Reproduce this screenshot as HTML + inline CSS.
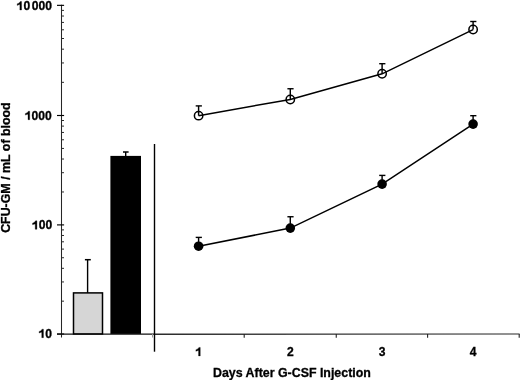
<!DOCTYPE html>
<html><head><meta charset="utf-8"><style>
html,body{margin:0;padding:0;background:#fff;}
body{width:520px;height:380px;overflow:hidden;}
svg{display:block;}
svg{will-change:transform;}
text{font-family:"Liberation Sans",sans-serif;font-weight:bold;fill:#000;stroke:#000;stroke-width:0.3px;}
</style></head><body>
<svg width="520" height="380" viewBox="0 0 520 380">
<rect width="520" height="380" fill="#fff"/>
<line x1="61.50" y1="4.80" x2="61.50" y2="337.50" stroke="#262626" stroke-width="1.05"/>
<line x1="57.00" y1="334.00" x2="64.10" y2="334.00" stroke="#000" stroke-width="1.15"/>
<line x1="57.00" y1="224.90" x2="64.10" y2="224.90" stroke="#000" stroke-width="1.15"/>
<line x1="57.00" y1="115.50" x2="64.10" y2="115.50" stroke="#000" stroke-width="1.15"/>
<line x1="57.00" y1="5.35" x2="64.10" y2="5.35" stroke="#000" stroke-width="1.15"/>
<line x1="61.50" y1="301.16" x2="64.00" y2="301.16" stroke="#2a2a2a" stroke-width="1.0"/>
<line x1="61.50" y1="281.95" x2="64.00" y2="281.95" stroke="#2a2a2a" stroke-width="1.0"/>
<line x1="61.50" y1="268.32" x2="64.00" y2="268.32" stroke="#2a2a2a" stroke-width="1.0"/>
<line x1="61.50" y1="257.74" x2="64.00" y2="257.74" stroke="#2a2a2a" stroke-width="1.0"/>
<line x1="61.50" y1="249.10" x2="64.00" y2="249.10" stroke="#2a2a2a" stroke-width="1.0"/>
<line x1="61.50" y1="241.80" x2="64.00" y2="241.80" stroke="#2a2a2a" stroke-width="1.0"/>
<line x1="61.50" y1="235.47" x2="64.00" y2="235.47" stroke="#2a2a2a" stroke-width="1.0"/>
<line x1="61.50" y1="229.89" x2="64.00" y2="229.89" stroke="#2a2a2a" stroke-width="1.0"/>
<line x1="61.50" y1="191.97" x2="64.00" y2="191.97" stroke="#2a2a2a" stroke-width="1.0"/>
<line x1="61.50" y1="172.70" x2="64.00" y2="172.70" stroke="#2a2a2a" stroke-width="1.0"/>
<line x1="61.50" y1="159.03" x2="64.00" y2="159.03" stroke="#2a2a2a" stroke-width="1.0"/>
<line x1="61.50" y1="148.43" x2="64.00" y2="148.43" stroke="#2a2a2a" stroke-width="1.0"/>
<line x1="61.50" y1="139.77" x2="64.00" y2="139.77" stroke="#2a2a2a" stroke-width="1.0"/>
<line x1="61.50" y1="132.45" x2="64.00" y2="132.45" stroke="#2a2a2a" stroke-width="1.0"/>
<line x1="61.50" y1="126.10" x2="64.00" y2="126.10" stroke="#2a2a2a" stroke-width="1.0"/>
<line x1="61.50" y1="120.51" x2="64.00" y2="120.51" stroke="#2a2a2a" stroke-width="1.0"/>
<line x1="61.50" y1="82.34" x2="64.00" y2="82.34" stroke="#2a2a2a" stroke-width="1.0"/>
<line x1="61.50" y1="62.95" x2="64.00" y2="62.95" stroke="#2a2a2a" stroke-width="1.0"/>
<line x1="61.50" y1="49.18" x2="64.00" y2="49.18" stroke="#2a2a2a" stroke-width="1.0"/>
<line x1="61.50" y1="38.51" x2="64.00" y2="38.51" stroke="#2a2a2a" stroke-width="1.0"/>
<line x1="61.50" y1="29.79" x2="64.00" y2="29.79" stroke="#2a2a2a" stroke-width="1.0"/>
<line x1="61.50" y1="22.41" x2="64.00" y2="22.41" stroke="#2a2a2a" stroke-width="1.0"/>
<line x1="61.50" y1="16.02" x2="64.00" y2="16.02" stroke="#2a2a2a" stroke-width="1.0"/>
<line x1="61.50" y1="10.39" x2="64.00" y2="10.39" stroke="#2a2a2a" stroke-width="1.0"/>
<line x1="57.00" y1="334.10" x2="154.30" y2="334.20" stroke="#111" stroke-width="1.3"/>
<defs><linearGradient id="ax" gradientUnits="userSpaceOnUse" x1="154" y1="0" x2="520" y2="0"><stop offset="0" stop-color="#2a2a2a"/><stop offset="0.5" stop-color="#555"/><stop offset="1" stop-color="#707070"/></linearGradient></defs>
<line x1="154.3" y1="334.25" x2="519.6" y2="333.9" stroke="url(#ax)" stroke-width="1.45"/>
<line x1="244.20" y1="333.90" x2="244.20" y2="337.80" stroke="#222" stroke-width="1.1"/>
<line x1="336.25" y1="333.90" x2="336.25" y2="337.80" stroke="#222" stroke-width="1.1"/>
<line x1="427.60" y1="333.90" x2="427.60" y2="337.80" stroke="#222" stroke-width="1.1"/>
<line x1="519.20" y1="333.90" x2="519.20" y2="337.80" stroke="#222" stroke-width="1.1"/>
<line x1="152.50" y1="333.90" x2="152.50" y2="337.50" stroke="#999" stroke-width="1.0"/>
<line x1="154.50" y1="144.00" x2="154.50" y2="351.70" stroke="#000" stroke-width="1.4"/>
<rect x="73.5" y="292.9" width="29" height="41.00" fill="#d6d6d6" stroke="#000" stroke-width="1.5"/>
<line x1="87.60" y1="259.70" x2="87.60" y2="292.90" stroke="#000" stroke-width="1.4"/>
<line x1="84.90" y1="259.70" x2="90.80" y2="259.70" stroke="#000" stroke-width="1.5"/>
<rect x="110.4" y="155.9" width="30.6" height="178.00" fill="#000"/>
<line x1="125.70" y1="152.00" x2="125.70" y2="156.00" stroke="#000" stroke-width="1.4"/>
<line x1="123.00" y1="152.00" x2="128.60" y2="152.00" stroke="#000" stroke-width="1.5"/>
<polyline points="198.60,115.65 290.30,99.45 382.10,73.80 473.10,29.55" fill="none" stroke="#000" stroke-width="1.5"/>
<polyline points="198.60,246.20 290.30,228.10 382.10,184.10 473.10,124.10" fill="none" stroke="#000" stroke-width="1.5"/>
<circle cx="198.60" cy="115.65" r="4.2" fill="none" stroke="#000" stroke-width="1.5"/>
<line x1="198.60" y1="105.90" x2="198.60" y2="115.65" stroke="#000" stroke-width="1.45"/>
<line x1="195.70" y1="105.90" x2="201.90" y2="105.90" stroke="#000" stroke-width="1.4"/>
<circle cx="290.30" cy="99.45" r="4.2" fill="none" stroke="#000" stroke-width="1.5"/>
<line x1="290.30" y1="88.75" x2="290.30" y2="99.45" stroke="#000" stroke-width="1.45"/>
<line x1="287.40" y1="88.75" x2="293.60" y2="88.75" stroke="#000" stroke-width="1.4"/>
<circle cx="382.10" cy="73.80" r="4.2" fill="none" stroke="#000" stroke-width="1.5"/>
<line x1="382.10" y1="63.70" x2="382.10" y2="73.80" stroke="#000" stroke-width="1.45"/>
<line x1="379.20" y1="63.70" x2="385.40" y2="63.70" stroke="#000" stroke-width="1.4"/>
<circle cx="473.10" cy="29.55" r="4.2" fill="none" stroke="#000" stroke-width="1.5"/>
<line x1="473.10" y1="21.50" x2="473.10" y2="29.55" stroke="#000" stroke-width="1.45"/>
<line x1="470.20" y1="21.50" x2="476.40" y2="21.50" stroke="#000" stroke-width="1.4"/>
<circle cx="198.60" cy="246.20" r="4.8" fill="#000"/>
<line x1="198.60" y1="237.40" x2="198.60" y2="246.20" stroke="#000" stroke-width="1.45"/>
<line x1="195.70" y1="237.40" x2="201.90" y2="237.40" stroke="#000" stroke-width="1.4"/>
<circle cx="290.30" cy="228.10" r="4.8" fill="#000"/>
<line x1="290.30" y1="216.75" x2="290.30" y2="228.10" stroke="#000" stroke-width="1.45"/>
<line x1="287.40" y1="216.75" x2="293.60" y2="216.75" stroke="#000" stroke-width="1.4"/>
<circle cx="382.10" cy="184.10" r="4.8" fill="#000"/>
<line x1="382.10" y1="175.40" x2="382.10" y2="184.10" stroke="#000" stroke-width="1.45"/>
<line x1="379.20" y1="175.40" x2="385.40" y2="175.40" stroke="#000" stroke-width="1.4"/>
<circle cx="473.10" cy="124.10" r="4.8" fill="#000"/>
<line x1="473.10" y1="115.70" x2="473.10" y2="124.10" stroke="#000" stroke-width="1.45"/>
<line x1="470.20" y1="115.70" x2="476.40" y2="115.70" stroke="#000" stroke-width="1.4"/>
<text x="52.0" y="10.0" text-anchor="end" font-size="12.1" ><tspan visibility="hidden">1</tspan>0<tspan dx="1.6">000</tspan></text>
<path d="M21.57,1.50 L21.57,10.00 L19.87,10.00 L19.87,4.60 C19.22,4.70 18.12,4.90 17.22,5.40 L17.22,3.80 C18.52,3.40 19.72,2.60 20.22,1.50 Z" fill="#000" stroke="#000" stroke-width="0.3"/>
<text x="51.8" y="119.7" text-anchor="end" font-size="12.1" ><tspan visibility="hidden">1</tspan>000</text>
<path d="M29.70,111.20 L29.70,119.70 L28.00,119.70 L28.00,114.30 C27.35,114.40 26.25,114.60 25.35,115.10 L25.35,113.50 C26.65,113.10 27.85,112.30 28.35,111.20 Z" fill="#000" stroke="#000" stroke-width="0.3"/>
<text x="52.3" y="229.3" text-anchor="end" font-size="12.1" ><tspan visibility="hidden">1</tspan>00</text>
<path d="M36.92,220.80 L36.92,229.30 L35.22,229.30 L35.22,223.90 C34.57,224.00 33.47,224.20 32.57,224.70 L32.57,223.10 C33.87,222.70 35.07,221.90 35.57,220.80 Z" fill="#000" stroke="#000" stroke-width="0.3"/>
<text x="52.1" y="337.65" text-anchor="end" font-size="12.1" ><tspan visibility="hidden">1</tspan>0</text>
<path d="M43.45,329.15 L43.45,337.65 L41.75,337.65 L41.75,332.25 C41.10,332.35 40.00,332.55 39.10,333.05 L39.10,331.45 C40.40,331.05 41.60,330.25 42.10,329.15 Z" fill="#000" stroke="#000" stroke-width="0.3"/>
<path d="M200.25,347.40 L200.25,355.90 L198.55,355.90 L198.55,350.50 C197.90,350.60 196.80,350.80 195.90,351.30 L195.90,349.70 C197.20,349.30 198.40,348.50 198.90,347.40 Z" fill="#000" stroke="#000" stroke-width="0.3"/>
<text x="290.3" y="355.9" text-anchor="middle" font-size="12.1" >2</text>
<text x="382.2" y="355.9" text-anchor="middle" font-size="12.1" >3</text>
<text x="473.1" y="355.9" text-anchor="middle" font-size="12.1" >4</text>
<text x="291.9" y="377.0" text-anchor="middle" font-size="12.4" >Days After G-CSF Injection</text>
<text transform="translate(9.8,167.6) rotate(-90)" text-anchor="middle" font-size="12.4">CFU-GM / mL of blood</text>
</svg>
</body></html>
